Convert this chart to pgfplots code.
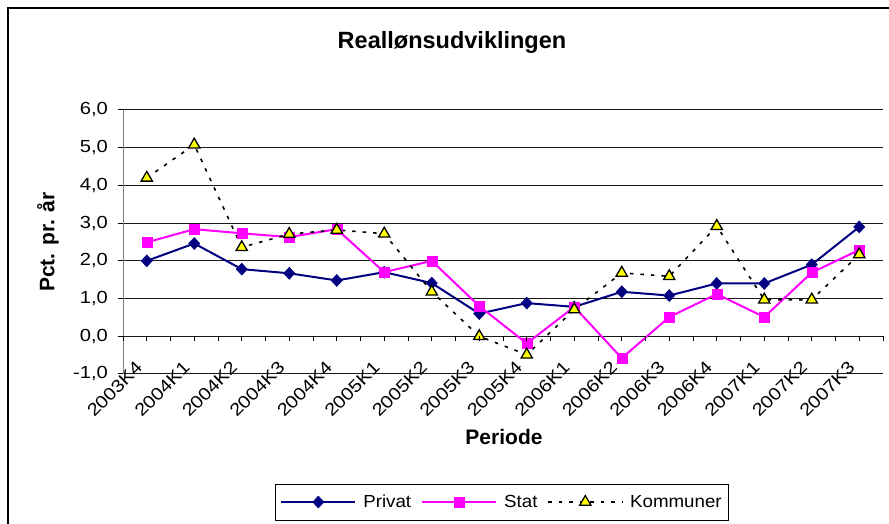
\documentclass[border=0pt]{standalone}
\usepackage{pgfplots}
\pgfplotsset{compat=1.18}
\usepackage{fontspec}
\setmainfont{Liberation Sans}
\newfontfamily\tickfont{Liberation Sans}[FakeStretch=1.15]
\newfontfamily\legfont{Liberation Sans}[FakeStretch=1.07]
\definecolor{navyc}{RGB}{0,0,128}
\definecolor{magc}{RGB}{255,0,255}
\definecolor{yelc}{RGB}{255,255,0}
\begin{document}
\begin{tikzpicture}[x=1pt,y=1pt]
\useasboundingbox (0,0) rectangle (889,524);
\draw[line width=1.6pt] (8,-2) -- (8,516) -- (891,516);
\node[font=\fontsize{23.5}{26}\selectfont\bfseries] at (452,482) {Reallønsudviklingen};
\node[rotate=90,font=\fontsize{21}{24}\selectfont\bfseries] at (48,282) {Pct. pr. år};
\node[font=\fontsize{21}{24}\selectfont\bfseries] at (504,87) {Periode};
\begin{axis}[
  at={(123pt,150pt)}, anchor=south west, scale only axis,
  width=760pt, height=264pt,
  xmin=-0.5, xmax=15.5, ymin=-1, ymax=6,
  clip=false,
  axis x line*=bottom, axis y line*=left,
  x axis line style={draw=none},
  y axis line style={draw=black!50, line width=1pt},
  xtick={0,...,15},
  xticklabels={2003K4,2004K1,2004K2,2004K3,2004K4,2005K1,2005K2,2005K3,2005K4,2006K1,2006K2,2006K3,2006K4,2007K1,2007K2,2007K3},
  xtick style={draw=none},
  xticklabel style={font=\tickfont\fontsize{17.5}{20}\selectfont, xshift=-12pt, yshift=19pt, rotate=45, anchor=north east, inner sep=0pt},
  ytick={-1,0,...,6},
  yticklabels={{-1,0},{0,0},{1,0},{2,0},{3,0},{4,0},{5,0},{6,0}},
  yticklabel style={font=\tickfont\fontsize{17.5}{20}\selectfont, inner sep=2pt, xshift=-8pt},
  ytick style={black, line width=1pt},
  tick align=outside, major tick length=5pt,
  ymajorgrids, major grid style={black!90, line width=1pt},
  legend columns=3,
  legend style={at={(axis description cs:0.4987,-0.485)}, anchor=center,
    draw=black, line width=0.8pt, font=\legfont\fontsize{17.5}{20}\selectfont,
    inner xsep=5pt, inner ysep=9pt,
    /tikz/every odd column/.append style={column sep=5pt},
    /tikz/every even column/.append style={column sep=8pt}},
  legend image code/.code={\draw[mark repeat=2,mark phase=2,#1] plot coordinates {(0pt,0pt) (37pt,0pt) (74pt,0pt)};},
]
\addplot[navyc, line width=2pt, mark=diamond*, mark size=6pt, mark options={xscale=1.25, fill=navyc, draw=navyc, line width=0.5pt}]
 coordinates {(0,2.0) (1,2.46) (2,1.78) (3,1.67) (4,1.48) (5,1.7) (6,1.41) (7,0.6) (8,0.88) (9,0.78) (10,1.18) (11,1.08) (12,1.4) (13,1.4) (14,1.9) (15,2.9)};
\addlegendentry{Privat}
\addplot[magc, line width=2pt, mark=square*, mark size=5pt, mark options={fill=magc, draw=magc, line width=0.5pt}]
 coordinates {(0,2.49) (1,2.84) (2,2.73) (3,2.63) (4,2.84) (5,1.7) (6,2.0) (7,0.8) (8,-0.19) (9,0.78) (10,-0.58) (11,0.51) (12,1.12) (13,0.51) (14,1.69) (15,2.29)};
\addlegendentry{Stat}
\addplot[black, line width=1.6pt, dash pattern=on 3.5pt off 7pt, mark=triangle*, mark size=6.5pt, mark options={solid, fill=yelc, draw=black, line width=1.3pt}]
 coordinates {(0,4.2) (1,5.08) (2,2.36) (3,2.71) (4,2.82) (5,2.72) (6,1.18) (7,0.0) (8,-0.49) (9,0.71) (10,1.68) (11,1.59) (12,2.92) (13,0.97) (14,0.97) (15,2.17)};
\addlegendentry{Kommuner}
\end{axis}
\begin{axis}[
  at={(123pt,150pt)}, anchor=south west, scale only axis,
  width=760pt, height=264pt,
  xmin=-0.5, xmax=15.5, ymin=-1, ymax=6,
  axis x line=middle, axis y line=none,
  x axis line style={draw=none},
  xtick={-0.5,0,...,15.5}, xticklabels={},
  xtick style={black, line width=1pt},
  tick align=outside, major tick length=5pt,
]
\addplot[draw=none] coordinates {(0,0)};
\end{axis}
\end{tikzpicture}
\end{document}
